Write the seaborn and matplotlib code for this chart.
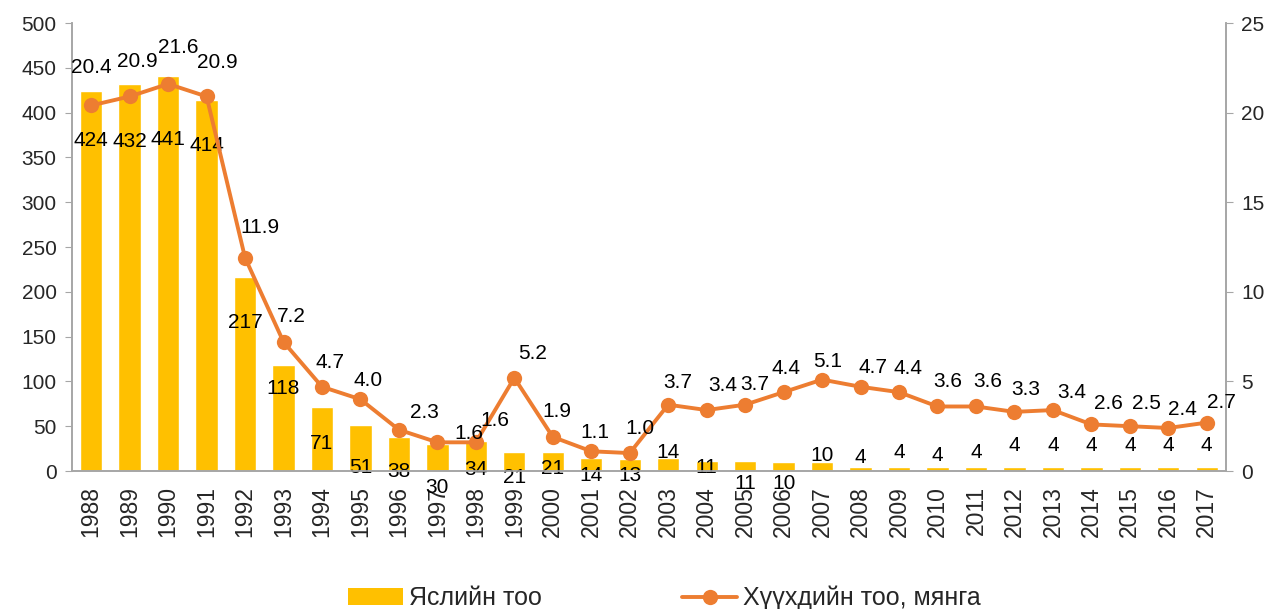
import numpy as np
import pandas as pd
import seaborn as sns
import matplotlib
matplotlib.use('Agg')
from matplotlib import pyplot as plt
from matplotlib.lines import Line2D
from matplotlib.patches import Patch

years = [str(y) for y in range(1988, 2018)]
nurseries = [424, 432, 441, 414, 217, 118, 71, 51, 38, 30, 34, 21, 21, 14, 13,
             14, 11, 11, 10, 10, 4, 4, 4, 4, 4, 4, 4, 4, 4, 4]
children = [20.4, 20.9, 21.6, 20.9, 11.9, 7.2, 4.7, 4.0, 2.3, 1.6, 1.6, 5.2, 1.9, 1.1, 1.0,
            3.7, 3.4, 3.7, 4.4, 5.1, 4.7, 4.4, 3.6, 3.6, 3.3, 3.4, 2.6, 2.5, 2.4, 2.7]
bar_name = 'Яслийн тоо'
line_name = 'Хүүхдийн тоо, мянга'

# label offsets in pixels (as placed in the original chart)
bar_lab_dy = [-49, -58, -64, -45, -46, -23, -36, -42, -35, -43, -29, -25, -16, -17, -16,
              6, -6, -22, -21, 7, 10, 15, 12, 15, 22, 22, 22, 22, 22, 22]
line_lab_off = [(0, 38), (8, 35), (10, 36), (11, 34), (15, 30), (8, 25), (8, 24), (8, 19),
                (26, 17), (31, 9), (19, 22), (18, 24), (4, 25), (4, 19), (10, 25), (10, 22),
                (16, 25), (10, 20), (2, 24), (6, 18), (12, 19), (9, 24), (10, 25), (12, 25),
                (11, 22), (19, 18), (17, 21), (17, 23), (14, 18), (15, 20)]

bar_color = '#FFC000'
line_color = '#ED7D31'
grey = '#A6A6A6'

sns.set_style('white')
plt.rcParams['font.family'] = ['Liberation Sans', 'DejaVu Sans']

df = pd.DataFrame({'year': years, 'nurseries': nurseries, 'children': children})
df['pos'] = np.arange(len(df))

fig = plt.figure(figsize=(12.78, 6.09), dpi=100)
ax = fig.add_axes([0.0563, 0.2266, 0.903, 0.7356])

sns.barplot(data=df, x='year', y='nurseries', color=bar_color, width=0.58,
            saturation=1, ax=ax)
ax2 = ax.twinx()
sns.lineplot(data=df, x='pos', y='children', color=line_color, marker='o',
             markersize=11, markeredgewidth=0, linewidth=2.8, ax=ax2)

ax.set_xlim(-0.5, len(df) - 0.5)
ax2.set_xlim(-0.5, len(df) - 0.5)
ax.set_ylim(0, 500)
ax2.set_ylim(0, 25)
ax.set_yticks(range(0, 501, 50))
ax2.set_yticks(range(0, 26, 5))
ax.set_xlabel('')
ax.set_ylabel('')
ax2.set_xlabel('')
ax2.set_ylabel('')

for a in (ax, ax2):
    for s in a.spines.values():
        s.set_color(grey)
        s.set_linewidth(1.2)
    a.spines['top'].set_visible(False)

ax.tick_params(axis='y', direction='out', length=5, color=grey, labelsize=15, pad=6)
ax2.tick_params(axis='y', direction='out', length=5, color=grey, labelsize=15, pad=6)
ax.tick_params(axis='x', length=0, labelsize=16.5, pad=11, labelrotation=90)

for i, v in enumerate(nurseries):
    ax.annotate(str(v), xy=(i, v), xytext=(0, bar_lab_dy[i]), textcoords='offset pixels',
                ha='center', va='center', fontsize=15, color='black')
for i, v in enumerate(children):
    dx, dy = line_lab_off[i]
    ax2.annotate('%.1f' % v, xy=(i, v), xytext=(dx, dy), textcoords='offset pixels',
                 ha='center', va='center', fontsize=15, color='black')

handles = [Patch(facecolor=bar_color, edgecolor='none'),
           Line2D([0], [0], color=line_color, linewidth=2.8, marker='o', markersize=11,
                  markeredgewidth=0)]
fig.legend(handles, [bar_name, line_name], loc='center', bbox_to_anchor=(0.52, 0.018),
           ncol=2, frameon=False, fontsize=18, handlelength=2.2, columnspacing=5.6,
           handletextpad=0.25)

fig.savefig('out.png', dpi=100)
